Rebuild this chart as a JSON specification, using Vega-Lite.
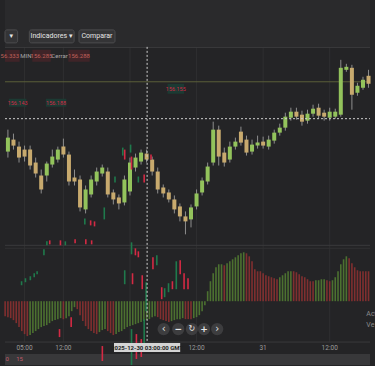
{
"$schema": "https://vega.github.io/schema/vega-lite/v6.json",
"width": 375, "height": 366,
"autosize": {"type": "fit", "contains": "padding"},
"padding": 0,
"background": "#242426",
"config": {"view": {"stroke": null}, "axis": {"disable": true}, "legend": {"disable": true}, "text": {"font": "Roboto"}},
"data": {"values": [{}]},
"datasets": {
"candles": [
{"t":2,"o":156.392,"c":156.448,"h":156.480,"l":156.368},
{"t":3,"o":156.440,"c":156.416,"h":156.464,"l":156.400},
{"t":4,"o":156.412,"c":156.368,"h":156.432,"l":156.348},
{"t":5,"o":156.400,"c":156.372,"h":156.416,"l":156.352},
{"t":6,"o":156.400,"c":156.336,"h":156.416,"l":156.320},
{"t":7,"o":156.348,"c":156.304,"h":156.368,"l":156.288},
{"t":8,"o":156.296,"c":156.240,"h":156.320,"l":156.224},
{"t":9,"o":156.296,"c":156.344,"h":156.352,"l":156.272},
{"t":10,"o":156.340,"c":156.372,"h":156.400,"l":156.328},
{"t":11,"o":156.360,"c":156.400,"h":156.412,"l":156.348},
{"t":12,"o":156.412,"c":156.380,"h":156.444,"l":156.368},
{"t":13,"o":156.380,"c":156.272,"h":156.392,"l":156.256},
{"t":14,"o":156.288,"c":156.272,"h":156.320,"l":156.256},
{"t":15,"o":156.280,"c":156.168,"h":156.296,"l":156.152},
{"t":16,"o":156.160,"c":156.240,"h":156.256,"l":156.144},
{"t":17,"o":156.220,"c":156.280,"h":156.296,"l":156.208},
{"t":18,"o":156.272,"c":156.312,"h":156.328,"l":156.256},
{"t":19,"o":156.304,"c":156.328,"h":156.340,"l":156.292},
{"t":20,"o":156.312,"c":156.220,"h":156.328,"l":156.208},
{"t":21,"o":156.228,"c":156.200,"h":156.240,"l":156.180},
{"t":22,"o":156.208,"c":156.184,"h":156.220,"l":156.160},
{"t":23,"o":156.188,"c":156.280,"h":156.296,"l":156.176},
{"t":24,"o":156.232,"c":156.348,"h":156.368,"l":156.216},
{"t":25,"o":156.328,"c":156.368,"h":156.384,"l":156.312},
{"t":26,"o":156.352,"c":156.388,"h":156.400,"l":156.340},
{"t":27,"o":156.384,"c":156.360,"h":156.400,"l":156.348},
{"t":28,"o":156.360,"c":156.312,"h":156.372,"l":156.296},
{"t":29,"o":156.312,"c":156.240,"h":156.328,"l":156.224},
{"t":30,"o":156.248,"c":156.224,"h":156.260,"l":156.208},
{"t":31,"o":156.228,"c":156.200,"h":156.240,"l":156.188},
{"t":32,"o":156.200,"c":156.160,"h":156.216,"l":156.144},
{"t":33,"o":156.172,"c":156.132,"h":156.184,"l":156.112},
{"t":34,"o":156.132,"c":156.112,"h":156.152,"l":156.060},
{"t":35,"o":156.120,"c":156.168,"h":156.180,"l":156.088},
{"t":36,"o":156.172,"c":156.224,"h":156.240,"l":156.160},
{"t":37,"o":156.228,"c":156.276,"h":156.288,"l":156.216},
{"t":38,"o":156.272,"c":156.332,"h":156.348,"l":156.260},
{"t":39,"o":156.348,"c":156.480,"h":156.512,"l":156.336},
{"t":40,"o":156.480,"c":156.372,"h":156.496,"l":156.336},
{"t":41,"o":156.388,"c":156.348,"h":156.408,"l":156.332},
{"t":42,"o":156.360,"c":156.412,"h":156.432,"l":156.348},
{"t":43,"o":156.412,"c":156.432,"h":156.448,"l":156.400},
{"t":44,"o":156.472,"c":156.428,"h":156.492,"l":156.416},
{"t":45,"o":156.440,"c":156.388,"h":156.456,"l":156.376},
{"t":46,"o":156.392,"c":156.420,"h":156.440,"l":156.380},
{"t":47,"o":156.416,"c":156.428,"h":156.456,"l":156.404},
{"t":48,"o":156.432,"c":156.416,"h":156.452,"l":156.404},
{"t":49,"o":156.412,"c":156.440,"h":156.456,"l":156.400},
{"t":50,"o":156.436,"c":156.468,"h":156.480,"l":156.424},
{"t":51,"o":156.468,"c":156.488,"h":156.504,"l":156.456},
{"t":52,"o":156.488,"c":156.532,"h":156.548,"l":156.476},
{"t":53,"o":156.528,"c":156.552,"h":156.568,"l":156.516},
{"t":54,"o":156.552,"c":156.532,"h":156.568,"l":156.520},
{"t":55,"o":156.540,"c":156.512,"h":156.556,"l":156.496},
{"t":56,"o":156.516,"c":156.544,"h":156.560,"l":156.504},
{"t":57,"o":156.544,"c":156.564,"h":156.580,"l":156.532},
{"t":58,"o":156.568,"c":156.536,"h":156.584,"l":156.524},
{"t":59,"o":156.548,"c":156.532,"h":156.560,"l":156.516},
{"t":60,"o":156.528,"c":156.552,"h":156.568,"l":156.516},
{"t":61,"o":156.532,"c":156.552,"h":156.564,"l":156.524},
{"t":62,"o":156.540,"c":156.728,"h":156.760,"l":156.532},
{"t":63,"o":156.720,"c":156.732,"h":156.744,"l":156.712},
{"t":64,"o":156.728,"c":156.620,"h":156.740,"l":156.560},
{"t":65,"o":156.628,"c":156.656,"h":156.668,"l":156.616},
{"t":66,"o":156.648,"c":156.680,"h":156.692,"l":156.640},
{"t":67,"o":156.696,"c":156.664,"h":156.720,"l":156.648}
],
"macd": [
{"t":1.5,"m":-0.015,"s":"r"},{"t":2,"m":-0.016,"s":"r"},{"t":2.5,"m":-0.017,"s":"r"},{"t":3,"m":-0.019,"s":"r"},
{"t":3.5,"m":-0.022,"s":"r"},{"t":4,"m":-0.026,"s":"r"},{"t":4.5,"m":-0.030,"s":"r"},{"t":5,"m":-0.033,"s":"r"},
{"t":5.5,"m":-0.035,"s":"r"},{"t":6,"m":-0.034,"s":"g"},{"t":6.5,"m":-0.032,"s":"g"},{"t":7,"m":-0.030,"s":"g"},
{"t":7.5,"m":-0.028,"s":"g"},{"t":8,"m":-0.026,"s":"g"},{"t":8.5,"m":-0.025,"s":"g"},{"t":9,"m":-0.024,"s":"g"},
{"t":9.5,"m":-0.022,"s":"g"},{"t":10,"m":-0.020,"s":"g"},{"t":10.5,"m":-0.019,"s":"g"},{"t":11,"m":-0.018,"s":"g"},
{"t":11.5,"m":-0.017,"s":"g"},{"t":12,"m":-0.018,"s":"r"},{"t":12.5,"m":-0.017,"s":"g"},{"t":13,"m":-0.015,"s":"g"},
{"t":13.5,"m":-0.010,"s":"g"},{"t":14,"m":-0.006,"s":"g"},{"t":14.5,"m":-0.008,"s":"r"},{"t":15,"m":-0.014,"s":"r"},
{"t":15.5,"m":-0.020,"s":"r"},{"t":16,"m":-0.025,"s":"r"},{"t":16.5,"m":-0.028,"s":"r"},{"t":17,"m":-0.030,"s":"r"},
{"t":17.5,"m":-0.032,"s":"r"},{"t":18,"m":-0.033,"s":"r"},{"t":18.5,"m":-0.031,"s":"g"},{"t":19,"m":-0.029,"s":"g"},
{"t":19.5,"m":-0.028,"s":"g"},{"t":20,"m":-0.030,"s":"r"},{"t":20.5,"m":-0.032,"s":"r"},{"t":21,"m":-0.034,"s":"r"},
{"t":21.5,"m":-0.033,"s":"g"},{"t":22,"m":-0.031,"s":"g"},{"t":22.5,"m":-0.030,"s":"g"},{"t":23,"m":-0.028,"s":"g"},
{"t":23.5,"m":-0.026,"s":"g"},{"t":24,"m":-0.025,"s":"g"},{"t":24.5,"m":-0.024,"s":"g"},{"t":25,"m":-0.023,"s":"g"},
{"t":25.5,"m":-0.022,"s":"g"},{"t":26,"m":-0.021,"s":"g"},{"t":26.5,"m":-0.020,"s":"g"},{"t":27,"m":-0.019,"s":"g"},
{"t":27.5,"m":-0.018,"s":"g"},{"t":28,"m":-0.016,"s":"g"},{"t":28.5,"m":-0.015,"s":"g"},{"t":29,"m":-0.016,"s":"r"},
{"t":29.5,"m":-0.018,"s":"r"},{"t":30,"m":-0.019,"s":"r"},{"t":30.5,"m":-0.020,"s":"r"},{"t":31,"m":-0.021,"s":"r"},
{"t":31.5,"m":-0.020,"s":"g"},{"t":32,"m":-0.019,"s":"g"},{"t":32.5,"m":-0.018,"s":"g"},{"t":33,"m":-0.018,"s":"g"},
{"t":33.5,"m":-0.017,"s":"g"},{"t":34,"m":-0.018,"s":"r"},{"t":34.5,"m":-0.018,"s":"r"},{"t":35,"m":-0.018,"s":"r"},
{"t":35.5,"m":-0.017,"s":"g"},{"t":36,"m":-0.016,"s":"g"},{"t":36.5,"m":-0.014,"s":"g"},{"t":37,"m":-0.010,"s":"g"},
{"t":37.5,"m":-0.004,"s":"g"},{"t":38,"m":0.010,"s":"g"},{"t":38.5,"m":0.020,"s":"g"},{"t":39,"m":0.028,"s":"g"},
{"t":39.5,"m":0.034,"s":"g"},{"t":40,"m":0.037,"s":"g"},{"t":40.5,"m":0.037,"s":"g"},{"t":41,"m":0.036,"s":"r"},
{"t":41.5,"m":0.038,"s":"g"},{"t":42,"m":0.040,"s":"g"},{"t":42.5,"m":0.042,"s":"g"},{"t":43,"m":0.044,"s":"g"},
{"t":43.5,"m":0.046,"s":"g"},{"t":44,"m":0.048,"s":"g"},{"t":44.5,"m":0.049,"s":"g"},{"t":45,"m":0.048,"s":"r"},
{"t":45.5,"m":0.045,"s":"r"},{"t":46,"m":0.040,"s":"r"},{"t":46.5,"m":0.032,"s":"r"},{"t":47,"m":0.030,"s":"r"},
{"t":47.5,"m":0.030,"s":"r"},{"t":48,"m":0.028,"s":"r"},{"t":48.5,"m":0.026,"s":"r"},{"t":49,"m":0.025,"s":"r"},
{"t":49.5,"m":0.024,"s":"r"},{"t":50,"m":0.023,"s":"r"},{"t":50.5,"m":0.022,"s":"r"},{"t":51,"m":0.024,"s":"g"},
{"t":51.5,"m":0.026,"s":"g"},{"t":52,"m":0.028,"s":"g"},{"t":52.5,"m":0.030,"s":"g"},{"t":53,"m":0.030,"s":"g"},
{"t":53.5,"m":0.030,"s":"r"},{"t":54,"m":0.029,"s":"r"},{"t":54.5,"m":0.027,"s":"r"},{"t":55,"m":0.025,"s":"r"},
{"t":55.5,"m":0.024,"s":"r"},{"t":56,"m":0.022,"s":"r"},{"t":56.5,"m":0.020,"s":"r"},{"t":57,"m":0.020,"s":"r"},
{"t":57.5,"m":0.021,"s":"g"},{"t":58,"m":0.021,"s":"g"},{"t":58.5,"m":0.022,"s":"g"},{"t":59,"m":0.022,"s":"g"},
{"t":59.5,"m":0.021,"s":"r"},{"t":60,"m":0.020,"s":"r"},{"t":60.5,"m":0.021,"s":"g"},{"t":61,"m":0.024,"s":"g"},
{"t":61.5,"m":0.030,"s":"g"},{"t":62,"m":0.037,"s":"g"},{"t":62.5,"m":0.042,"s":"g"},{"t":63,"m":0.045,"s":"g"},
{"t":63.5,"m":0.043,"s":"r"},{"t":64,"m":0.038,"s":"r"},{"t":64.5,"m":0.034,"s":"r"},{"t":65,"m":0.031,"s":"r"},
{"t":65.5,"m":0.030,"s":"r"},{"t":66,"m":0.030,"s":"r"},{"t":66.5,"m":0.030,"s":"r"},{"t":67,"m":0.030,"s":"r"}
],
"overlay": [
{"t":9.02,"a":156.032,"b":156.016,"s":"g"},{"t":9.54,"a":156.036,"b":156.020,"s":"r"},
{"t":11.47,"a":156.036,"b":156.016,"s":"r"},{"t":12.35,"a":156.032,"b":156.016,"s":"g"},
{"t":14.11,"a":156.040,"b":156.024,"s":"r"},{"t":16.04,"a":156.040,"b":156.020,"s":"r"},
{"t":17.09,"a":156.036,"b":156.020,"s":"r"},{"t":8.49,"a":156.000,"b":155.976,"s":"g"},
{"t":4.46,"a":155.872,"b":155.856,"s":"g"},{"t":5.16,"a":155.884,"b":155.868,"s":"g"},
{"t":6.04,"a":155.892,"b":155.876,"s":"g"},{"t":6.74,"a":155.904,"b":155.888,"s":"g"},
{"t":7.26,"a":155.912,"b":155.900,"s":"g"},{"t":24.28,"a":156.028,"b":155.980,"s":"g"},
{"t":24.98,"a":156.004,"b":155.976,"s":"r"},{"t":25.51,"a":155.992,"b":155.968,"s":"r"},
{"t":23.05,"a":155.916,"b":155.860,"s":"g"},{"t":24.46,"a":155.904,"b":155.860,"s":"r"},
{"t":26.21,"a":155.896,"b":155.840,"s":"r"},{"t":26.91,"a":155.868,"b":155.752,"s":"g"},
{"t":28.14,"a":155.968,"b":155.920,"s":"r"},{"t":28.84,"a":155.976,"b":155.936,"s":"g"},
{"t":29.72,"a":155.848,"b":155.800,"s":"r"},{"t":30.25,"a":155.844,"b":155.808,"s":"g"},
{"t":30.95,"a":155.864,"b":155.828,"s":"g"},{"t":31.65,"a":155.872,"b":155.840,"s":"r"},
{"t":32.35,"a":155.952,"b":155.840,"s":"g"},{"t":33.05,"a":155.956,"b":155.900,"s":"r"},
{"t":33.75,"a":155.904,"b":155.840,"s":"r"},{"t":34.46,"a":155.884,"b":155.840,"s":"r"},
{"t":11.30,"a":155.680,"b":155.648,"s":"r"},{"t":13.40,"a":155.728,"b":155.688,"s":"r"},
{"t":19.02,"a":155.612,"b":155.552,"s":"r"},{"t":24.28,"a":155.680,"b":155.536,"s":"g"},
{"t":25.16,"a":155.660,"b":155.560,"s":"r"},{"t":26.04,"a":155.640,"b":155.568,"s":"r"},
{"t":26.56,"a":155.720,"b":155.620,"s":"g"},{"t":22.70,"a":156.408,"b":156.376,"s":"g"},
{"t":23.05,"a":156.400,"b":156.360,"s":"r"},{"t":24.11,"a":156.420,"b":156.388,"s":"g"},
{"t":24.28,"a":156.372,"b":156.320,"s":"r"},{"t":25.51,"a":156.292,"b":156.268,"s":"g"},
{"t":26.56,"a":156.300,"b":156.268,"s":"r"},{"t":27.79,"a":156.380,"b":156.360,"s":"r"},
{"t":21.30,"a":156.292,"b":156.268,"s":"g"},{"t":15.86,"a":156.124,"b":156.100,"s":"g"},
{"t":16.91,"a":156.116,"b":156.096,"s":"r"},{"t":17.61,"a":156.112,"b":156.092,"s":"r"},
{"t":19.37,"a":156.168,"b":156.120,"s":"g"}
],
"ticks": [
{"t":5,"lab":"05:00"},{"t":12,"lab":"12:00"},{"t":24,"lab":""},{"t":36,"lab":"12:00"},{"t":48,"lab":"31"},{"t":60,"lab":"12:00"}
]
},
"layer": [
{
"layer": [
{"mark": {"type": "rect", "color": "#2a2a2c"},
 "encoding": {
  "x": {"datum": 1.4737, "type": "quantitative", "scale": {"domain": [1.4737, 67.2632], "nice": false, "zero": false}},
  "x2": {"datum": 67.2632},
  "y": {"datum": 157.0, "type": "quantitative", "scale": {"domain": [155.536, 157.0], "nice": false, "zero": false}},
  "y2": {"datum": 156.812}}},
{"mark": {"type": "rect", "color": "#38383a"},
 "encoding": {"x": {"datum": 1.4737}, "x2": {"datum": 67.2632}, "y": {"datum": 155.58}, "y2": {"datum": 155.536}}},
{"data": {"name": "ticks"}, "mark": {"type": "rule", "color": "#2f2f31", "strokeWidth": 1},
 "encoding": {"x": {"field": "t", "type": "quantitative"}, "y": {"datum": 156.812}, "y2": {"datum": 155.628}}},
{"mark": {"type": "rule", "color": "#3c3c3e", "strokeWidth": 1},
 "encoding": {"x": {"datum": 1.4737}, "x2": {"datum": 67.2632}, "y": {"datum": 156.81}}},
{"mark": {"type": "rule", "color": "#3a3a3c", "strokeWidth": 1},
 "encoding": {"x": {"datum": 1.4737}, "x2": {"datum": 67.2632}, "y": {"datum": 156.016}}},
{"mark": {"type": "rule", "color": "#303032", "strokeWidth": 1},
 "encoding": {"x": {"datum": 1.4737}, "x2": {"datum": 67.2632}, "y": {"datum": 156.004}}},
{"mark": {"type": "rule", "color": "#3a3a3c", "strokeWidth": 1},
 "encoding": {"x": {"datum": 1.4737}, "x2": {"datum": 67.2632}, "y": {"datum": 155.628}}},
{"mark": {"type": "rule", "color": "#5a5e38", "strokeWidth": 1},
 "encoding": {"x": {"datum": 1.4737}, "x2": {"datum": 67.2632}, "y": {"datum": 156.672}}},
{"data": {"name": "candles"}, "mark": {"type": "rule", "color": "#8e8e8e", "strokeWidth": 1},
 "encoding": {"x": {"field": "t", "type": "quantitative"}, "y": {"field": "l", "type": "quantitative"}, "y2": {"field": "h"}}},
{"data": {"name": "candles"}, "mark": {"type": "bar", "size": 4},
 "encoding": {"x": {"field": "t", "type": "quantitative"}, "y": {"field": "o", "type": "quantitative"}, "y2": {"field": "c"},
  "color": {"condition": {"test": "datum.c >= datum.o", "value": "#93c35c"}, "value": "#c8aa6e"}}},
{"mark": {"type": "rect", "color": "#3f2428"},
 "encoding": {"x": {"datum": 1.4737}, "x2": {"datum": 4.11}, "y": {"datum": 156.80}, "y2": {"datum": 156.752}}},
{"mark": {"type": "rect", "color": "#3f2428"},
 "encoding": {"x": {"datum": 6.39}, "x2": {"datum": 9.72}, "y": {"datum": 156.80}, "y2": {"datum": 156.752}}},
{"mark": {"type": "rect", "color": "#3f2428"},
 "encoding": {"x": {"datum": 12.88}, "x2": {"datum": 16.74}, "y": {"datum": 156.80}, "y2": {"datum": 156.752}}},
{"mark": {"type": "text", "text": "156.333", "align": "right", "baseline": "middle", "fontSize": 6, "color": "#c0605a", "clip": true},
 "encoding": {"x": {"datum": 4.0}, "y": {"datum": 156.776}}},
{"mark": {"type": "text", "text": "MIN", "align": "center", "baseline": "middle", "fontSize": 6, "color": "#a8a8a8"},
 "encoding": {"x": {"datum": 5.25}, "y": {"datum": 156.776}}},
{"mark": {"type": "text", "text": "156.285", "align": "center", "baseline": "middle", "fontSize": 6, "color": "#c0605a"},
 "encoding": {"x": {"datum": 8.05}, "y": {"datum": 156.776}}},
{"mark": {"type": "text", "text": "Cerrar", "align": "center", "baseline": "middle", "fontSize": 6, "color": "#a8a8a8"},
 "encoding": {"x": {"datum": 11.30}, "y": {"datum": 156.776}}},
{"mark": {"type": "text", "text": "156.288", "align": "center", "baseline": "middle", "fontSize": 6, "color": "#c0605a"},
 "encoding": {"x": {"datum": 14.81}, "y": {"datum": 156.776}}},
{"mark": {"type": "rect", "color": "#1c3a33"},
 "encoding": {"x": {"datum": 2.18}, "x2": {"datum": 5.33}, "y": {"datum": 156.604}, "y2": {"datum": 156.572}}},
{"mark": {"type": "rect", "color": "#1c3a33"},
 "encoding": {"x": {"datum": 8.84}, "x2": {"datum": 12.53}, "y": {"datum": 156.604}, "y2": {"datum": 156.572}}},
{"mark": {"type": "rect", "color": "#1c3a33"},
 "encoding": {"x": {"datum": 30.77}, "x2": {"datum": 33.75}, "y": {"datum": 156.664}, "y2": {"datum": 156.624}}},
{"mark": {"type": "text", "text": "156.143", "align": "center", "baseline": "middle", "fontSize": 5.5, "color": "#d02a48"},
 "encoding": {"x": {"datum": 3.75}, "y": {"datum": 156.588}}},
{"mark": {"type": "text", "text": "156.188", "align": "center", "baseline": "middle", "fontSize": 5.5, "color": "#d02a48"},
 "encoding": {"x": {"datum": 10.68}, "y": {"datum": 156.588}}},
{"mark": {"type": "text", "text": "156.155", "align": "center", "baseline": "middle", "fontSize": 5.5, "color": "#d02a48"},
 "encoding": {"x": {"datum": 32.26}, "y": {"datum": 156.644}}},
{"mark": {"type": "rect", "color": "#343436", "stroke": "#4c4c4e", "strokeWidth": 1, "cornerRadius": 2},
 "encoding": {"x": {"datum": 1.4737}, "x2": {"datum": 3.75}, "y": {"datum": 156.88}, "y2": {"datum": 156.828}}},
{"mark": {"type": "rect", "color": "#343436", "stroke": "#4c4c4e", "strokeWidth": 1, "cornerRadius": 2},
 "encoding": {"x": {"datum": 5.86}, "x2": {"datum": 13.93}, "y": {"datum": 156.88}, "y2": {"datum": 156.828}}},
{"mark": {"type": "rect", "color": "#343436", "stroke": "#4c4c4e", "strokeWidth": 1, "cornerRadius": 2},
 "encoding": {"x": {"datum": 14.81}, "x2": {"datum": 21.30}, "y": {"datum": 156.88}, "y2": {"datum": 156.828}}},
{"mark": {"type": "text", "text": "▾", "align": "center", "baseline": "middle", "fontSize": 7, "color": "#e6e6e6", "font": "DejaVu Sans"},
 "encoding": {"x": {"datum": 2.61}, "y": {"datum": 156.854}}},
{"mark": {"type": "text", "text": "Indicadores ▾", "align": "center", "baseline": "middle", "fontSize": 7, "color": "#e6e6e6"},
 "encoding": {"x": {"datum": 9.89}, "y": {"datum": 156.854}}},
{"mark": {"type": "text", "text": "Comparar", "align": "center", "baseline": "middle", "fontSize": 7, "color": "#e6e6e6"},
 "encoding": {"x": {"datum": 18.05}, "y": {"datum": 156.854}}}
]
},
{
"layer": [
{"data": {"name": "macd"}, "mark": {"type": "bar", "size": 1.6, "opacity": 0.72},
 "encoding": {
  "x": {"field": "t", "type": "quantitative", "scale": {"domain": [1.4737, 67.2632], "nice": false, "zero": false}},
  "y": {"field": "m", "type": "quantitative", "scale": {"domain": [-0.064, 0.302], "nice": false, "zero": false}},
  "y2": {"datum": 0},
  "color": {"field": "s", "type": "nominal", "scale": {"domain": ["g", "r"], "range": ["#5b8f35", "#a33333"]}}}}
]
},
{
"layer": [
{"data": {"name": "overlay"}, "mark": {"type": "rule", "strokeWidth": 1.6},
 "encoding": {
  "x": {"field": "t", "type": "quantitative", "scale": {"domain": [1.4737, 67.2632], "nice": false, "zero": false}},
  "y": {"field": "a", "type": "quantitative", "scale": {"domain": [155.536, 157.0], "nice": false, "zero": false}},
  "y2": {"field": "b"},
  "color": {"field": "s", "type": "nominal", "scale": {"domain": ["g", "r"], "range": ["#1f7a4c", "#d42a44"]}}}},
{"mark": {"type": "rule", "color": "#cfcfcf", "strokeWidth": 1, "strokeDash": [2, 2]},
 "encoding": {"x": {"datum": 27.09}, "y": {"datum": 156.812}, "y2": {"datum": 155.628}}},
{"mark": {"type": "rule", "color": "#cfcfcf", "strokeWidth": 1, "strokeDash": [2, 2]},
 "encoding": {"x": {"datum": 1.4737}, "x2": {"datum": 67.2632}, "y": {"datum": 156.524}}},
{"data": {"name": "ticks"}, "mark": {"type": "text", "align": "center", "baseline": "middle", "fontSize": 6.5, "color": "#9c9c9c"},
 "encoding": {"x": {"field": "t", "type": "quantitative"}, "y": {"datum": 155.604}, "text": {"field": "lab"}}},
{"mark": {"type": "rect", "color": "#d4d4d4"},
 "encoding": {"x": {"datum": 21.12}, "x2": {"datum": 33.05}, "y": {"datum": 155.624}, "y2": {"datum": 155.588}}},
{"mark": {"type": "text", "text": "2025-12-30 03:00:00 GMT", "align": "center", "baseline": "middle", "fontSize": 6, "fontWeight": "bold", "color": "#222222"},
 "encoding": {"x": {"datum": 27.09}, "y": {"datum": 155.606}}},
{"mark": {"type": "text", "text": "0", "align": "center", "baseline": "middle", "fontSize": 6, "color": "#c05a6a"},
 "encoding": {"x": {"datum": 1.85}, "y": {"datum": 155.56}}},
{"mark": {"type": "text", "text": "15", "align": "center", "baseline": "middle", "fontSize": 6, "color": "#c05a6a"},
 "encoding": {"x": {"datum": 4.11}, "y": {"datum": 155.56}}},
{"mark": {"type": "text", "text": "Activar Windows", "align": "left", "baseline": "middle", "fontSize": 7, "color": "#8a8a8a", "clip": true},
 "encoding": {"x": {"datum": 66.6}, "y": {"datum": 155.74}}},
{"mark": {"type": "text", "text": "Ve a Configuración", "align": "left", "baseline": "middle", "fontSize": 7, "color": "#8a8a8a", "clip": true},
 "encoding": {"x": {"datum": 66.6}, "y": {"datum": 155.696}}},
{"encoding": {"x": {"datum": 30.07}, "y": {"datum": 155.68}},
 "layer": [
  {"mark": {"type": "point", "filled": true, "size": 150, "color": "#3d3d3f", "opacity": 1}},
  {"mark": {"type": "text", "text": "‹", "fontSize": 10, "color": "#e8e8e8", "baseline": "middle", "font": "DejaVu Sans"}}]},
{"encoding": {"x": {"datum": 32.70}, "y": {"datum": 155.68}},
 "layer": [
  {"mark": {"type": "point", "filled": true, "size": 150, "color": "#3d3d3f", "opacity": 1}},
  {"mark": {"type": "text", "text": "−", "fontSize": 9, "color": "#e8e8e8", "baseline": "middle", "font": "DejaVu Sans", "fontWeight": "bold"}}]},
{"encoding": {"x": {"datum": 35.16}, "y": {"datum": 155.68}},
 "layer": [
  {"mark": {"type": "point", "filled": true, "size": 150, "color": "#3d3d3f", "opacity": 1}},
  {"mark": {"type": "text", "text": "↻", "fontSize": 8, "color": "#e8e8e8", "baseline": "middle", "font": "DejaVu Sans"}}]},
{"encoding": {"x": {"datum": 37.35}, "y": {"datum": 155.68}},
 "layer": [
  {"mark": {"type": "point", "filled": true, "size": 150, "color": "#3d3d3f", "opacity": 1}},
  {"mark": {"type": "text", "text": "+", "fontSize": 9, "color": "#e8e8e8", "baseline": "middle", "font": "DejaVu Sans", "fontWeight": "bold"}}]},
{"encoding": {"x": {"datum": 39.72}, "y": {"datum": 155.68}},
 "layer": [
  {"mark": {"type": "point", "filled": true, "size": 150, "color": "#3d3d3f", "opacity": 1}},
  {"mark": {"type": "text", "text": "›", "fontSize": 10, "color": "#e8e8e8", "baseline": "middle", "font": "DejaVu Sans"}}]}
]
}
],
"resolve": {"scale": {"y": "independent", "color": "independent"}}
}
